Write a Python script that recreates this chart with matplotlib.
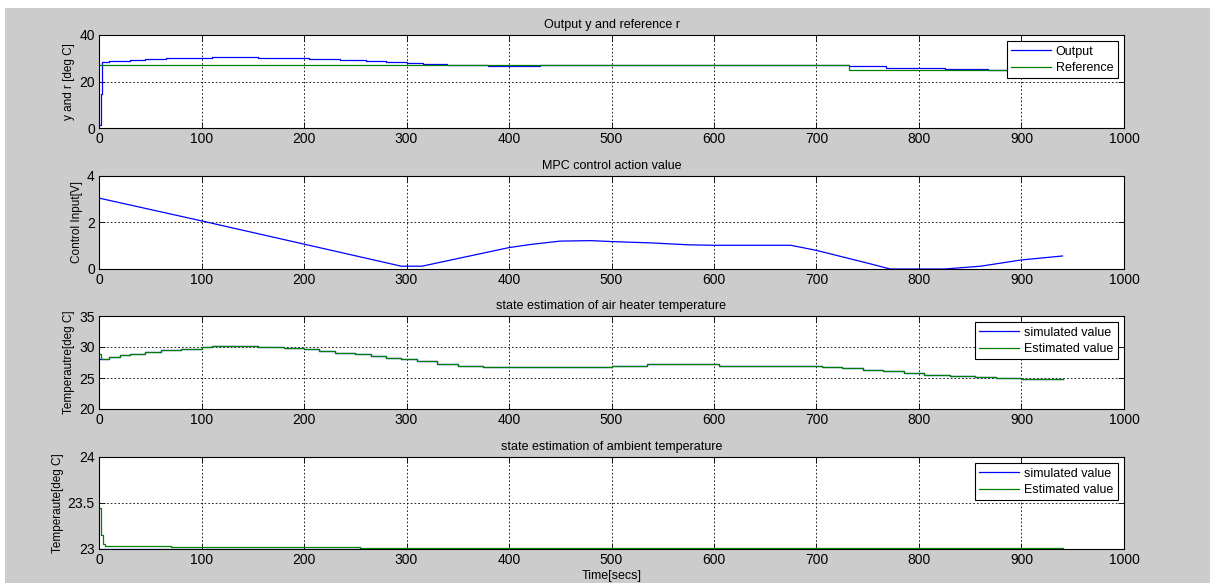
import matplotlib
matplotlib.use("Agg")
import matplotlib.pyplot as plt
import numpy as np
from matplotlib.patches import Rectangle

plt.rcParams['font.family'] = ['Liberation Sans', 'DejaVu Sans']

# ---------------- data ----------------
# Panel 1: output y and reference r
t_out = [0, 2, 3, 4, 10, 20, 30, 45, 65, 100, 110, 155, 200, 205, 235, 260, 280, 300, 316, 340,
         380, 430, 732, 768, 795, 825, 867, 940]
y_out = [1.3, 14.6, 28.3, 28.4, 28.7, 29.0, 29.3, 29.7, 30.0, 30.1, 30.5, 30.1, 30.0, 29.6, 29.3,
         28.8, 28.4, 28.0, 27.4, 27.0, 26.6, 27.0, 26.5, 26.0, 25.6, 25.2, 24.8, 24.8]
t_ref = [0, 732, 940]
r_ref = [27.0, 24.8, 24.8]

# Panel 2: MPC control action
t_u = [0, 100, 200, 295, 315, 350, 400, 420, 450, 480, 500, 540, 575, 600, 675, 700, 750, 772,
       825, 860, 900, 940]
u = [3.05, 2.07, 1.07, 0.12, 0.12, 0.45, 0.92, 1.05, 1.2, 1.22, 1.18, 1.12, 1.04, 1.02, 1.02,
     0.8, 0.25, 0.0, 0.0, 0.12, 0.39, 0.56]

# Panel 3: air heater temperature (simulated / estimated)
t_h = [0, 2, 10, 20, 30, 45, 60, 80, 100, 110, 155, 180, 200, 215, 230, 250, 265, 280, 295, 310,
       330, 350, 375, 500, 535, 605, 705, 725, 745, 765, 785, 805, 830, 855, 875, 900, 940]
h_sim = [28.1, 28.1, 28.4, 28.7, 28.9, 29.2, 29.5, 29.75, 29.95, 30.1, 30.0, 29.85, 29.6, 29.35,
         29.1, 28.9, 28.6, 28.3, 28.0, 27.7, 27.3, 27.0, 26.7, 27.0, 27.2, 27.0, 26.8, 26.55,
         26.3, 26.05, 25.8, 25.55, 25.3, 25.1, 24.95, 24.8, 24.8]
h_est = [28.8] + h_sim[1:]

# Panel 4: ambient temperature
t_a = [0, 2, 4, 6, 70, 255, 940]
a_sim = [23.0, 23.0, 23.0, 23.0, 23.0, 23.0, 23.0]
a_est = [23.45, 23.15, 23.05, 23.03, 23.025, 23.01, 23.01]

xticks = [0, 100, 200, 300, 400, 500, 600, 700, 800, 900, 1000]

# ---------------- figure ----------------
W, H = 1210, 583
fig = plt.figure(figsize=(W / 100, H / 100), dpi=100, facecolor='white')
fig.patches.append(Rectangle((5 / W, 0), 1 - 5 / W, 1 - 8 / H, transform=fig.transFigure,
                             facecolor='#cccccc', edgecolor='none', zorder=-10))

left, right = 99, 1124
boxes = [(35, 128), (176, 269), (316, 409), (457, 549)]
axes = []
for top, bot in boxes:
    ax = fig.add_axes([left / W, 1 - bot / H, (right - left) / W, (bot - top) / H])
    axes.append(ax)

BLUE = '#0000ff'
GREEN = '#008000'
lw = 0.9


def style(ax, yticks, ylim, title, ylabel):
    ax.set_xlim(0, 1000)
    ax.set_ylim(*ylim)
    ax.set_xticks(xticks)
    ax.set_yticks(yticks)
    ax.set_yticklabels([('%g' % v) for v in yticks])
    ax.tick_params(direction='in', top=True, right=True, labelsize=10, length=4,
                   width=0.6, pad=3)
    ax.grid(True, color='black', linestyle=(0, (2, 2.5)), linewidth=0.6)
    for s in ax.spines.values():
        s.set_linewidth(0.8)
    ax.set_title(title, fontsize=9, pad=5)
    ax.set_ylabel(ylabel, fontsize=8.5, labelpad=3)
    ax.set_facecolor('white')


ax = axes[0]
ax.plot(t_out, y_out, color=BLUE, lw=lw, drawstyle='steps-post', label='Output')
ax.plot(t_ref, r_ref, color=GREEN, lw=lw, drawstyle='steps-post', label='Reference')
style(ax, [0, 20, 40], (0, 40), 'Output y and reference r', 'y and r [deg C]')

ax = axes[1]
ax.plot(t_u, u, color=BLUE, lw=lw)
style(ax, [0, 2, 4], (0, 4), 'MPC control action value', 'Control Input[V]')

ax = axes[2]
ax.plot(t_h, h_sim, color=BLUE, lw=lw, drawstyle='steps-post', label='simulated value')
ax.plot(t_h, h_est, color=GREEN, lw=lw, drawstyle='steps-post', label='Estimated value')
style(ax, [20, 25, 30, 35], (20, 35), 'state estimation of air heater temperature',
      'Temperautre[deg C]')

ax = axes[3]
ax.plot(t_a, a_sim, color=BLUE, lw=lw, drawstyle='steps-post', label='simulated value')
ax.plot(t_a, a_est, color=GREEN, lw=lw, drawstyle='steps-post', label='Estimated value')
style(ax, [23, 23.5, 24], (23, 24), 'state estimation of ambient temperature',
      'Temperaute[deg C]')
ax.set_xlabel('Time[secs]', fontsize=9, labelpad=2)

for i in (0, 2, 3):
    leg = axes[i].legend(loc='upper right', fontsize=9, frameon=True, fancybox=False,
                         framealpha=1, edgecolor='black', borderpad=0.35, handlelength=3.2,
                         handletextpad=0.4, labelspacing=0.35, borderaxespad=0.5)
    leg.get_frame().set_linewidth(0.8)

fig.savefig('out.png', dpi=100, facecolor=fig.get_facecolor())
